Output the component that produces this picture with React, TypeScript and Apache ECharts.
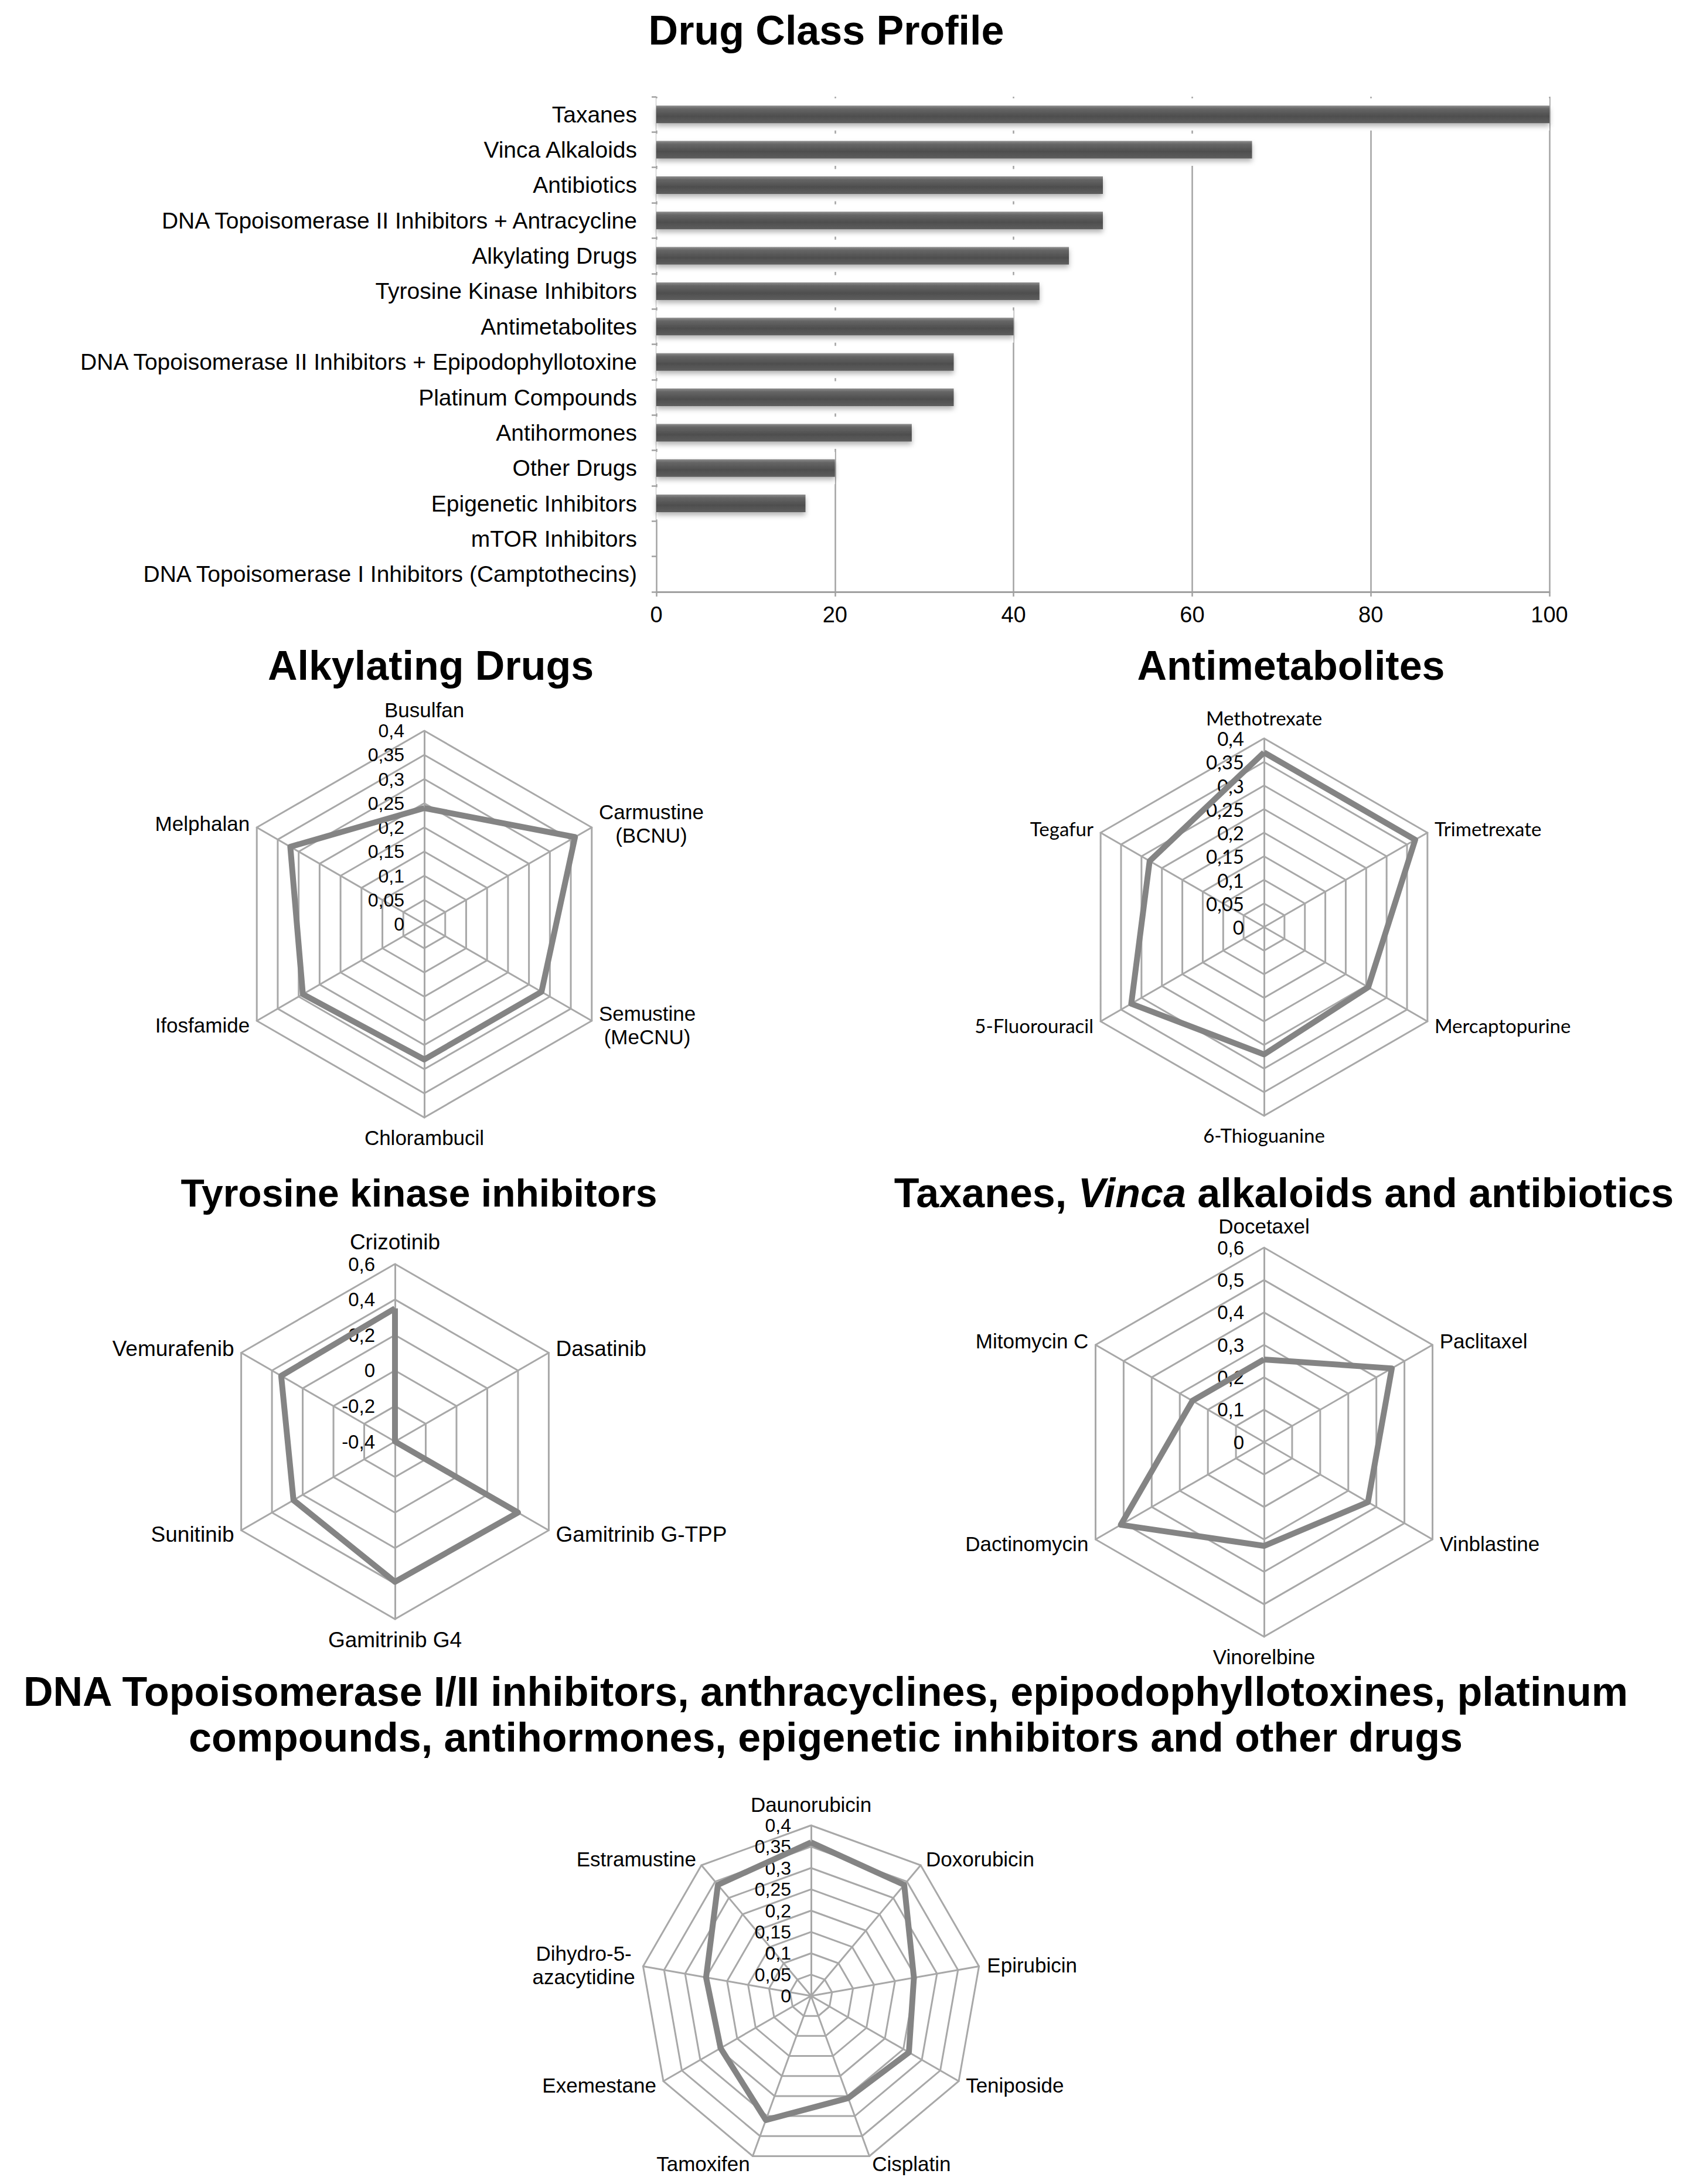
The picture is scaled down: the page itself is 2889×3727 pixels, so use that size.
import React, { useEffect, useRef } from 'react';
import * as echarts from 'echarts';

const SANS = '"Liberation Sans", Arial, Helvetica, sans-serif';
const CALIBRI_LIKE = 'Lato, "Open Sans", sans-serif';

// ---- Bar chart data ----
const barCategories = [
  'Taxanes',
  'Vinca Alkaloids',
  'Antibiotics',
  'DNA Topoisomerase II Inhibitors + Antracycline',
  'Alkylating Drugs',
  'Tyrosine Kinase Inhibitors',
  'Antimetabolites',
  'DNA Topoisomerase II Inhibitors + Epipodophyllotoxine',
  'Platinum Compounds',
  'Antihormones',
  'Other Drugs',
  'Epigenetic Inhibitors',
  'mTOR Inhibitors',
  'DNA Topoisomerase I Inhibitors (Camptothecins)',
];
const barValues = [100, 66.7, 50, 50, 46.2, 42.9, 40, 33.3, 33.3, 28.6, 20, 16.7, 0, 0];

// ---- Radar data (clockwise from the top axis) ----
const alkylatingNames = ['Busulfan', 'Carmustine\n(BCNU)', 'Semustine\n(MeCNU)', 'Chlorambucil', 'Ifosfamide', 'Melphalan'];
const alkylatingValues = [0.24, 0.36, 0.28, 0.28, 0.29, 0.32];

const antimetaboliteNames = ['Methotrexate', 'Trimetrexate', 'Mercaptopurine', '6-Thioguanine', '5-Fluorouracil', 'Tegafur'];
const antimetaboliteValues = [0.37, 0.37, 0.255, 0.27, 0.325, 0.28];

const tkiNames = ['Crizotinib', 'Dasatinib', 'Gamitrinib G-TPP', 'Gamitrinib G4', 'Sunitinib', 'Vemurafenib'];
const tkiValues = [0.35, -0.4, 0.4, 0.39, 0.26, 0.34];

const taxaneNames = ['Docetaxel', 'Paclitaxel', 'Vinblastine', 'Vinorelbine', 'Dactinomycin', 'Mitomycin C'];
const taxaneValues = [0.255, 0.455, 0.37, 0.32, 0.51, 0.255];

const dnaNames = ['Daunorubicin', 'Doxorubicin', 'Epirubicin', 'Teniposide', 'Cisplatin', 'Tamoxifen', 'Exemestane', 'Dihydro-5-\nazacytidine', 'Estramustine'];
const dnaValues = [0.36, 0.34, 0.245, 0.265, 0.255, 0.31, 0.245, 0.25, 0.34];

// ECharts lays indicators out counter-clockwise; reorder so the picture reads clockwise
function ccw<T>(a: T[]): T[] {
  return [a[0], ...a.slice(1).reverse()];
}

function fmtTick(v: number): string {
  const r = Math.round(v * 100) / 100;
  return String(r).replace('.', ',');
}

interface RadarCfg {
  names: string[];
  min: number;
  max: number;
  split: number;
  center: [number, number];
  radius: number;
  font: string;
  nameSize: number;
  tickSize: number;
  nameGap: number;
}

function makeRadar(c: RadarCfg) {
  const lh = Math.round(c.nameSize * 1.15);
  return {
    center: c.center,
    radius: c.radius,
    startAngle: 90,
    shape: 'polygon',
    splitNumber: c.split,
    axisNameGap: c.nameGap,
    axisName: {
      color: '#000',
      fontSize: c.nameSize,
      fontFamily: c.font,
      lineHeight: lh,
      formatter: (n: string) => n.split('\n').map((s) => '{c|' + s + '}').join('\n'),
      rich: { c: { align: 'center', fontSize: c.nameSize, fontFamily: c.font, color: '#000', lineHeight: lh } },
    },
    splitLine: { lineStyle: { color: '#a8a8a8', width: 3 } },
    splitArea: { show: false },
    axisLine: { lineStyle: { color: '#a8a8a8', width: 3 } },
    axisTick: { show: false },
    axisLabel: { show: false },
    indicator: ccw(c.names).map((n, i) =>
      i === 0
        ? {
            name: n,
            min: c.min,
            max: c.max,
            axisLabel: {
              show: true,
              color: '#000',
              fontSize: c.tickSize,
              fontFamily: c.font,
              margin: 34,
              formatter: (v: number) => fmtTick(v),
            },
          }
        : { name: n, min: c.min, max: c.max }
    ),
  };
}

function radarSeries(idx: number, values: number[]) {
  return {
    type: 'radar',
    radarIndex: idx,
    symbol: 'none',
    silent: true,
    lineStyle: { color: '#848484', width: 10, join: 'round' },
    itemStyle: { color: '#848484' },
    data: [{ value: ccw(values) }],
  };
}

export default function App() {
  const ref = useRef<HTMLDivElement>(null);

  useEffect(() => {
    if (!ref.current) return;
    const chart = echarts.init(ref.current, undefined, { renderer: 'svg' });

    const titleFont = (size: number) => ({ fontSize: size, fontWeight: 'bold', fontFamily: SANS, fill: '#000' });

    const option: any = {
      animation: false,
      backgroundColor: '#fff',
      color: ['#848484'],
      graphic: [
        { type: 'text', x: 1410, y: 52, style: { text: 'Drug Class Profile', ...titleFont(70), align: 'center', verticalAlign: 'middle' } },
        { type: 'text', x: 735, y: 1136, style: { text: 'Alkylating Drugs', ...titleFont(70), align: 'center', verticalAlign: 'middle' } },
        { type: 'text', x: 2203, y: 1136, style: { text: 'Antimetabolites', ...titleFont(70), align: 'center', verticalAlign: 'middle' } },
        { type: 'text', x: 715, y: 2036, style: { text: 'Tyrosine kinase inhibitors', ...titleFont(66), align: 'center', verticalAlign: 'middle' } },
        {
          type: 'text',
          x: 2191,
          y: 2036,
          style: {
            text: '{b|Taxanes, }{i|Vinca}{b| alkaloids and antibiotics}',
            rich: {
              b: { fontSize: 70, fontWeight: 'bold', fontFamily: SANS, fill: '#000' },
              i: { fontSize: 70, fontWeight: 'bold', fontStyle: 'italic', fontFamily: SANS, fill: '#000' },
            },
            align: 'center',
            verticalAlign: 'middle',
          },
        },
        {
          type: 'text',
          x: 1409,
          y: 2926,
          style: {
            text: 'DNA Topoisomerase I/II inhibitors, anthracyclines, epipodophyllotoxines, platinum\ncompounds, antihormones, epigenetic inhibitors and other drugs',
            ...titleFont(70),
            lineHeight: 78,
            align: 'center',
            verticalAlign: 'middle',
          },
        },
      ],
      grid: [{ left: 1120, top: 165, width: 1524, height: 845 }],
      xAxis: [
        {
          type: 'value',
          gridIndex: 0,
          min: 0,
          max: 100,
          interval: 20,
          axisLine: { show: true, lineStyle: { color: '#a0a0a0', width: 3 } },
          axisTick: { show: true, length: 8, lineStyle: { color: '#a0a0a0', width: 2.5 } },
          splitLine: { show: true, lineStyle: { color: '#a3a3a3', width: 2.5 } },
          axisLabel: { color: '#000', fontSize: 38, fontFamily: SANS, margin: 20 },
        },
      ],
      yAxis: [
        {
          type: 'category',
          gridIndex: 0,
          data: barCategories,
          inverse: true,
          axisLine: { show: false },
          axisTick: { show: true, length: 8, lineStyle: { color: '#a0a0a0', width: 2.5 } },
          axisLabel: { color: '#000', fontSize: 39, fontFamily: SANS, margin: 33, interval: 0 },
        },
        {
          type: 'category',
          gridIndex: 0,
          data: barCategories,
          inverse: true,
          show: false,
        },
      ],
      radar: [
        makeRadar({ names: alkylatingNames, min: 0, max: 0.4, split: 8, center: [724, 1577], radius: 330, font: SANS, nameSize: 35, tickSize: 32, nameGap: 14 }),
        makeRadar({ names: antimetaboliteNames, min: 0, max: 0.4, split: 8, center: [2157, 1582], radius: 322, font: CALIBRI_LIKE, nameSize: 33, tickSize: 33, nameGap: 14 }),
        makeRadar({ names: tkiNames, min: -0.4, max: 0.6, split: 5, center: [674, 2460], radius: 303, font: SANS, nameSize: 37, tickSize: 33, nameGap: 14 }),
        makeRadar({ names: taxaneNames, min: 0, max: 0.6, split: 6, center: [2157, 2461], radius: 332, font: SANS, nameSize: 35, tickSize: 33, nameGap: 14 }),
        makeRadar({ names: dnaNames, min: 0, max: 0.4, split: 8, center: [1384, 3406], radius: 291, font: SANS, nameSize: 35, tickSize: 32, nameGap: 14 }),
      ],
      series: [
        {
          type: 'bar',
          xAxisIndex: 0,
          yAxisIndex: 1,
          data: barValues,
          barWidth: 55,
          silent: true,
          itemStyle: { color: '#ffffff' },
          z: 2,
        },
        {
          type: 'bar',
          xAxisIndex: 0,
          yAxisIndex: 0,
          data: barValues,
          barWidth: 30,
          itemStyle: {
            color: new echarts.graphic.LinearGradient(0, 0, 0, 1, [
              { offset: 0, color: '#8e8e8e' },
              { offset: 0.18, color: '#666666' },
              { offset: 0.6, color: '#4e4e4e' },
              { offset: 1, color: '#5e5e5e' },
            ]),
            shadowColor: 'rgba(0,0,0,0.3)',
            shadowBlur: 8,
            shadowOffsetY: 5,
          },
          z: 3,
        },
        radarSeries(0, alkylatingValues),
        radarSeries(1, antimetaboliteValues),
        radarSeries(2, tkiValues),
        radarSeries(3, taxaneValues),
        radarSeries(4, dnaValues),
      ],
    };

    chart.setOption(option);
    return () => {
      chart.dispose();
    };
  }, []);

  return (
    <div
      ref={ref}
      style={{ position: 'absolute', left: 0, top: 0, width: 2889, height: 3727, background: '#fff' }}
    />
  );
}
